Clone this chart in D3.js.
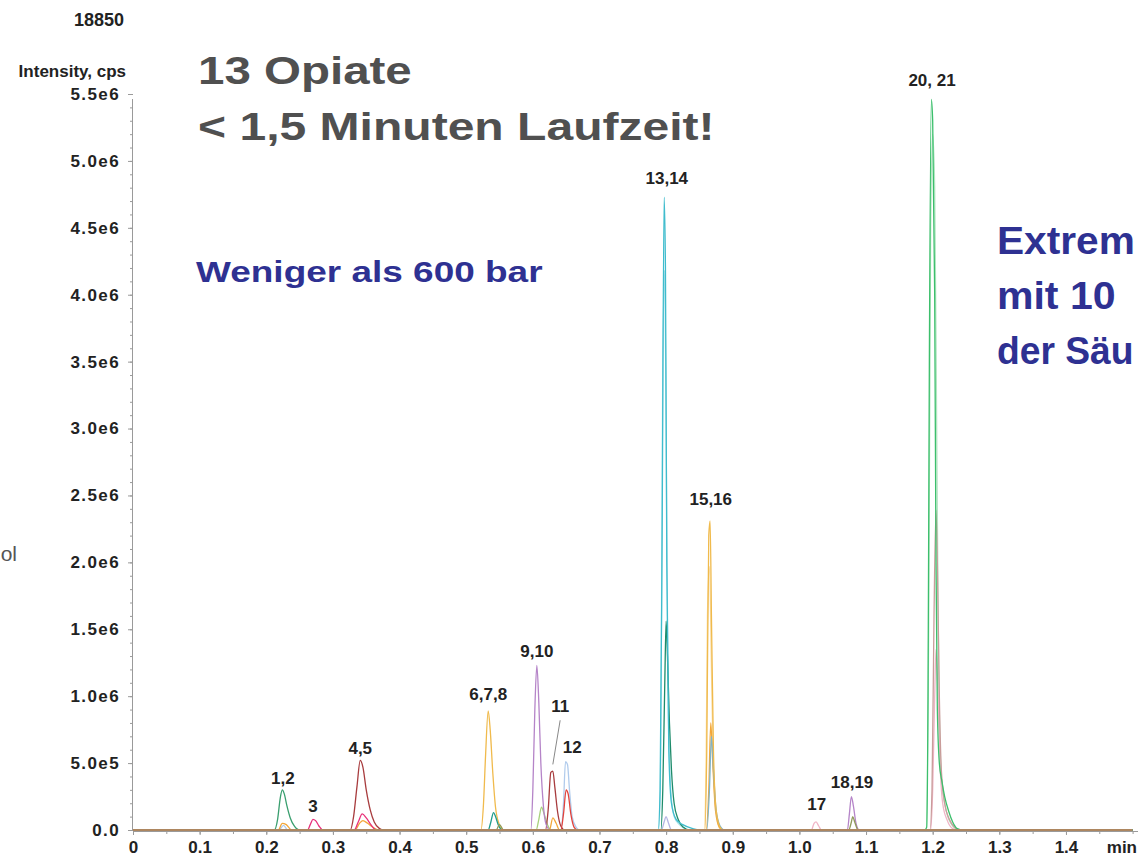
<!DOCTYPE html>
<html>
<head>
<meta charset="utf-8">
<script src="https://cdn.jsdelivr.net/npm/d3@7"></script>
<style>
  html, body { margin: 0; padding: 0; background: #fff; }
  svg { display: block; font-family: "Liberation Sans", Arial, sans-serif; }
</style>
</head>
<body>
<svg id="chart" width="1138" height="857"></svg>
<script>
// ---------- data (time in min, intensity in 1e6 cps) ----------
const xTicks = [0, 0.1, 0.2, 0.3, 0.4, 0.5, 0.6, 0.7, 0.8, 0.9, 1.0, 1.1, 1.2, 1.3, 1.4];
const xTickLabels = ["0", "0.1", "0.2", "0.3", "0.4", "0.5", "0.6", "0.7", "0.8", "0.9", "1.0", "1.1", "1.2", "1.3", "1.4"];
const yTicks = [0, 0.5, 1.0, 1.5, 2.0, 2.5, 3.0, 3.5, 4.0, 4.5, 5.0, 5.5];
const yTickLabels = ["0.0", "5.0e5", "1.0e6", "1.5e6", "2.0e6", "2.5e6", "3.0e6", "3.5e6", "4.0e6", "4.5e6", "5.0e6", "5.5e6"];

const paleGreenTrace = [[0,0],[1.19,0],[1.194,1.5],[1.197,4.5],[1.2,5.2],[1.203,4.8],[1.206,3.0],[1.209,1.2],[1.213,0.4],[1.22,0.15],[1.23,0.03],[1.24,0],[1.5,0]];
const paleCyanTrace = [[0,0],[0.789,0],[0.792,0.6],[0.795,3.5],[0.798,4.18],[0.8,3.0],[0.803,1.0],[0.807,0.3],[0.812,0.1],[0.82,0.04],[0.835,0],[1.5,0]];
const paleYellowTrace = [[0,0],[0.857,0],[0.86,0.5],[0.862,1.6],[0.865,1.97],[0.868,1.2],[0.871,0.45],[0.876,0.1],[0.882,0],[1.5,0]];
const pinkTrace = [[0,0],[1.018,0],[1.022,0.05],[1.025,0.06],[1.029,0.03],[1.033,0],[1.197,0],[1.2,0.3],[1.203,1.0],[1.205,1.35],[1.208,1.0],[1.211,0.5],[1.215,0.2],[1.222,0.07],[1.23,0.01],[1.236,0],[1.5,0]];
const rosyTrace = [[0,0],[1.196,0],[1.199,0.3],[1.202,1.6],[1.205,2.39],[1.207,2.0],[1.21,1.0],[1.213,0.45],[1.218,0.2],[1.225,0.08],[1.233,0.02],[1.24,0],[1.5,0]];
const lightBlueTrace = [[0,0],[0.219,0],[0.226,0.035],[0.232,0],[0.642,0],[0.646,0.2],[0.649,0.51],[0.652,0.49],[0.655,0.3],[0.659,0.1],[0.665,0.02],[0.67,0],[1.5,0]];
const lavenderTrace = [[0,0],[0.793,0],[0.797,0.06],[0.8,0.1],[0.803,0.06],[0.808,0],[1.5,0]];
const lightGreenTrace = [[0,0],[0.605,0],[0.609,0.08],[0.613,0.17],[0.617,0.12],[0.622,0.04],[0.628,0],[1.5,0]];
const orangeTrace = [[0,0],[0.218,0],[0.224,0.05],[0.23,0.04],[0.238,0],[0.333,0],[0.34,0.05],[0.345,0.07],[0.352,0.05],[0.36,0.02],[0.368,0],[0.625,0],[0.63,0.09],[0.635,0.05],[0.64,0],[0.86,0],[0.864,0.3],[0.867,0.8],[0.87,0.5],[0.874,0.15],[0.88,0.02],[0.886,0],[1.5,0]];
const steelBlueTrace = [[0,0],[0.861,0],[0.865,0.3],[0.868,0.7],[0.871,0.45],[0.875,0.15],[0.881,0.03],[0.888,0],[1.5,0]];
const yellowTrace = [[0,0],[0.522,0],[0.526,0.2],[0.529,0.55],[0.533,0.89],[0.536,0.75],[0.54,0.42],[0.544,0.17],[0.549,0.05],[0.556,0],[0.858,0],[0.861,0.6],[0.864,2.2],[0.866,2.31],[0.868,1.6],[0.871,0.6],[0.875,0.15],[0.88,0.03],[0.885,0],[1.5,0]];
const greenTrace = [[0,0],[0.212,0],[0.217,0.08],[0.221,0.24],[0.224,0.30],[0.227,0.27],[0.231,0.18],[0.236,0.09],[0.242,0.03],[0.25,0],[1.5,0]];
const tealTrace = [[0,0],[0.533,0],[0.537,0.06],[0.541,0.13],[0.544,0.1],[0.548,0.04],[0.555,0],[1.5,0]];
const magentaTrace = [[0,0],[0.262,0],[0.266,0.04],[0.27,0.08],[0.274,0.07],[0.279,0.03],[0.285,0],[0.332,0],[0.338,0.06],[0.344,0.12],[0.35,0.09],[0.357,0.04],[0.365,0],[1.5,0]];
const darkRedTrace = [[0,0],[0.326,0],[0.331,0.1],[0.336,0.32],[0.341,0.52],[0.345,0.47],[0.35,0.3],[0.356,0.15],[0.362,0.06],[0.37,0.01],[0.376,0],[0.619,0],[0.623,0.15],[0.627,0.43],[0.63,0.44],[0.633,0.32],[0.637,0.14],[0.642,0.03],[0.648,0],[1.5,0]];
const redTrace = [[0,0],[0.642,0],[0.646,0.12],[0.65,0.30],[0.653,0.27],[0.657,0.12],[0.662,0.02],[0.667,0],[1.5,0]];
const purpleTrace = [[0,0],[0.597,0],[0.6,0.3],[0.603,0.9],[0.606,1.23],[0.609,0.95],[0.612,0.5],[0.616,0.17],[0.62,0.04],[0.626,0],[1.072,0],[1.075,0.12],[1.078,0.25],[1.081,0.18],[1.085,0.05],[1.09,0],[1.5,0]];
const oliveTrace = [[0,0],[0.545,0],[0.55,0.04],[0.556,0],[1.074,0],[1.078,0.06],[1.08,0.1],[1.083,0.06],[1.088,0],[1.5,0]];
const darkGreenTrace = [[0,0],[0.792,0],[0.795,0.3],[0.798,1.1],[0.8,1.56],[0.802,1.3],[0.805,0.8],[0.808,0.45],[0.812,0.2],[0.818,0.08],[0.826,0.02],[0.835,0],[1.5,0]];
const cyanTrace = [[0,0],[0.788,0],[0.791,0.3],[0.794,2.2],[0.797,4.73],[0.799,4.2],[0.801,2.0],[0.804,0.6],[0.808,0.2],[0.815,0.08],[0.825,0.04],[0.84,0.01],[0.85,0],[1.5,0]];
const brightGreenTrace = [[0,0],[1.188,0],[1.191,0.02],[1.193,1.0],[1.195,3.5],[1.198,5.46],[1.2,5.3],[1.203,4.0],[1.205,2.0],[1.207,0.9],[1.21,0.5],[1.214,0.36],[1.218,0.25],[1.224,0.14],[1.23,0.06],[1.237,0.01],[1.245,0],[1.5,0]];
const baselineTrace = [[0,0],[1.5,0]];

const traces = [paleGreenTrace, paleCyanTrace, paleYellowTrace, pinkTrace, rosyTrace, lightBlueTrace, lavenderTrace,
  lightGreenTrace, orangeTrace, steelBlueTrace, yellowTrace, greenTrace, tealTrace, magentaTrace, darkRedTrace,
  redTrace, purpleTrace, oliveTrace, darkGreenTrace, cyanTrace, brightGreenTrace, baselineTrace];
const traceColors = ["#b4e6c2", "#a6e0e8", "#f8dca4", "#f0b4c6", "#c99c9a", "#b0cbec", "#b6b6e4",
  "#a8d07c", "#f3a73a", "#80b4c8", "#f0ba4c", "#3a9f6f", "#1f9c8c", "#e8317a", "#a83c3e",
  "#e2433c", "#b584c8", "#8f9a5a", "#1e8b6a", "#3fbccd", "#3cbf6c", "#ad8660"];

const peakLabels = ["1,2", "3", "4,5", "6,7,8", "9,10", "11", "12", "13,14", "15,16", "17", "18,19", "20, 21"];
const peakLabelTimes = [0.225, 0.270, 0.341, 0.533, 0.606, 0.641, 0.659, 0.801, 0.867, 1.026, 1.079, 1.199];
const peakLabelLevels = [0.344, 0.135, 0.568, 0.972, 1.293, 0.882, 0.575, 4.828, 2.429, 0.149, 0.314, 5.561];
const leaderTimes = [0.641, 0.630];
const leaderLevels = [0.82, 0.49];

// ---------- drawing ----------
const W = 1138, H = 857;
const svg = d3.select("#chart");
const x = d3.scaleLinear().domain([0, 1.5]).range([133, 1132.6]);
const y = d3.scaleLinear().domain([0, 5.5]).range([830, 94]);
const axisColor = "#9a9a9a";

// slide texts
svg.append("text").attr("transform", "translate(198,84) scale(1.25,1)")
  .attr("font-size", 38).attr("font-weight", "bold").attr("fill", "#505050").text("13 Opiate");
svg.append("text").attr("transform", "translate(198,140) scale(1.265,1)")
  .attr("font-size", 38).attr("font-weight", "bold").attr("fill", "#505050").text("< 1,5 Minuten Laufzeit!");
svg.append("text").attr("transform", "translate(196,282) scale(1.275,1)")
  .attr("font-size", 29).attr("font-weight", "bold").attr("fill", "#2e3192").text("Weniger als 600 bar");
const rightLines = ["Extrem", "mit 10", "der Säu"];
const rightBase = [254, 309, 364];
const rightScale = [1.07, 1.08, 0.98];
rightLines.forEach((t, i) => {
  svg.append("text").attr("transform", `translate(997,${rightBase[i]}) scale(${rightScale[i]},1)`)
    .attr("font-size", 38).attr("font-weight", "bold").attr("fill", "#2e3192").text(t);
});
svg.append("text").attr("x", 17).attr("y", 561).attr("text-anchor", "end")
  .attr("font-size", 21).attr("fill", "#555").text("ol");

// header texts
svg.append("text").attr("x", 124).attr("y", 26).attr("text-anchor", "end")
  .attr("font-size", 18).attr("font-weight", "bold").attr("fill", "#222").text("18850");
svg.append("text").attr("x", 126).attr("y", 77).attr("text-anchor", "end")
  .attr("font-size", 17).attr("font-weight", "bold").attr("fill", "#222").text("Intensity, cps");

// y axis minor ticks
const yMinor = d3.range(0, 56).map(i => i / 10);
svg.append("g").attr("transform", "translate(133,0)")
  .call(d3.axisLeft(y).tickValues(yMinor).tickSize(3).tickFormat(""))
  .call(g => g.select(".domain").remove())
  .call(g => g.selectAll("line").attr("stroke", axisColor));
// y axis major
const yAxis = svg.append("g").attr("transform", "translate(133,0)")
  .call(d3.axisLeft(y).tickValues(yTicks).tickSize(5).tickPadding(8)
    .tickFormat((d, i) => yTickLabels[i]));
yAxis.select(".domain").attr("stroke", axisColor).attr("d", `M-0.5,${y(5.5) + 5}V${y(0)}`);
yAxis.selectAll("line").attr("stroke", axisColor);
yAxis.selectAll("text").attr("font-size", 17).attr("font-weight", "bold").attr("fill", "#222")
  .attr("letter-spacing", 1.4).attr("font-family", "Liberation Sans, Arial, sans-serif");

// x axis
const xMinor = d3.range(0, 31).map(i => i / 20);
svg.append("g").attr("transform", "translate(0,831)")
  .call(d3.axisBottom(x).tickValues(xMinor).tickSize(3).tickFormat(""))
  .call(g => g.select(".domain").remove())
  .call(g => g.selectAll("line").attr("stroke", axisColor));
const xAxis = svg.append("g").attr("transform", "translate(0,831)")
  .call(d3.axisBottom(x).tickValues(xTicks).tickSize(4).tickPadding(6)
    .tickFormat((d, i) => xTickLabels[i]));
xAxis.select(".domain").attr("stroke", axisColor).attr("d", `M133,0.5H${W}`);
xAxis.selectAll("line").attr("stroke", axisColor);
xAxis.selectAll("text").attr("font-size", 17).attr("font-weight", "bold").attr("fill", "#222")
  .attr("font-family", "Liberation Sans, Arial, sans-serif");
svg.append("text").attr("x", 1137).attr("y", 853).attr("text-anchor", "end")
  .attr("font-size", 17).attr("font-weight", "bold").attr("fill", "#222").text("min");

// traces
const line = d3.line().x(d => x(d[0])).y(d => y(d[1])).curve(d3.curveMonotoneX);
const gTraces = svg.append("g");
traces.forEach((tr, i) => {
  gTraces.append("path").attr("d", line(tr)).attr("fill", "none")
    .attr("stroke", traceColors[i]).attr("stroke-width", i === traces.length - 1 ? 2 : 1.3)
    .attr("stroke-linejoin", "round");
});

// peak labels
peakLabels.forEach((t, i) => {
  svg.append("text").attr("x", x(peakLabelTimes[i])).attr("y", y(peakLabelLevels[i]))
    .attr("text-anchor", "middle").attr("font-size", 17).attr("font-weight", "bold")
    .attr("fill", "#222").text(t);
});
svg.append("line")
  .attr("x1", x(leaderTimes[0])).attr("y1", y(leaderLevels[0]))
  .attr("x2", x(leaderTimes[1])).attr("y2", y(leaderLevels[1]))
  .attr("stroke", "#888").attr("stroke-width", 1);
</script>
</body>
</html>
